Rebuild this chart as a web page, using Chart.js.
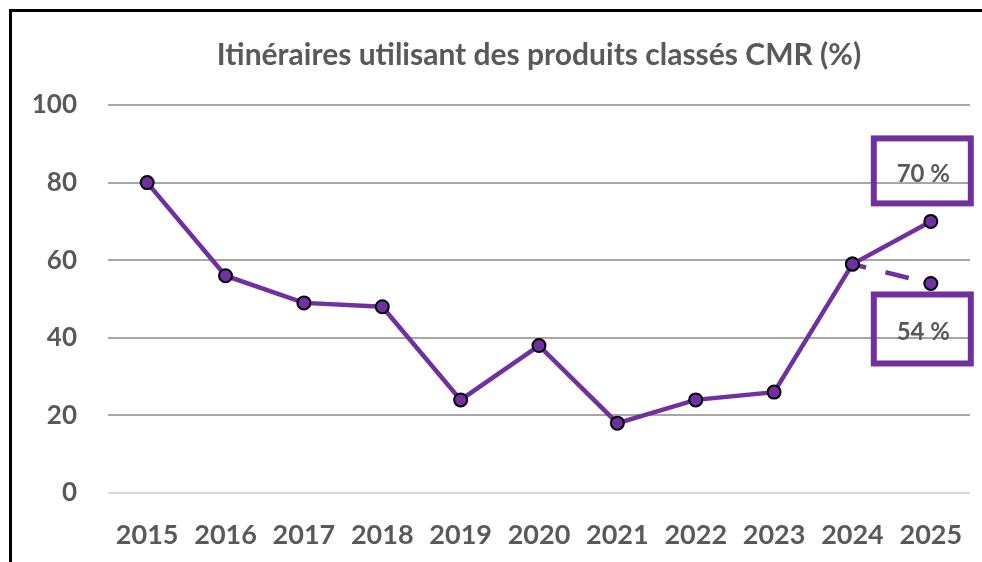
<!DOCTYPE html>
<html lang="fr">
<head>
<meta charset="utf-8">
<title>Itinéraires CMR</title>
<script src="https://cdn.jsdelivr.net/npm/chart.js@4/dist/chart.umd.min.js"></script>
<style>
    html, body { margin: 0; padding: 0; background: #fff; overflow: hidden; }
    #wrap { position: relative; width: 982px; height: 562px; }
    #frame {
        position: absolute; left: 9px; top: 9px; width: 1000px; height: 600px;
        border-top: 3px solid #000; border-left: 3px solid #000; pointer-events: none;
    }
</style>
</head>
<body>
<div id="wrap">
    <canvas id="cmrChart" width="982" height="562"></canvas>
    <div id="frame"></div>
</div>
<script>
// ---- Data ----
var years = ['2015', '2016', '2017', '2018', '2019', '2020', '2021', '2022', '2023', '2024', '2025'];
var cmrValues = [80, 56, 49, 48, 24, 38, 18, 24, 26, 59, 70];
var cmrAlt = [null, null, null, null, null, null, null, null, null, 59, 54];
var yTicks = [0, 20, 40, 60, 80, 100];
var boxLabels = ['70 %', '54 %'];

var purple = '#7030a0';
var textGrey = '#595959';
var font = "Lato, 'Open Sans', sans-serif";

// Boxes around the last values (2025)
var calloutBoxes = {
    id: 'calloutBoxes',
    afterDatasetsDraw: function (chart) {
        var x = chart.scales.x;
        var y = chart.scales.y;
        var last = years.length - 1;
        var px = x.getPixelForValue(last);
        var ctx = chart.ctx;
        var specs = [
            { v: cmrValues[last], top: -83, bottom: -18, text: boxLabels[0] },
            { v: cmrAlt[last], top: 11, bottom: 80, text: boxLabels[1] }
        ];
        ctx.save();
        specs.forEach(function (s) {
            var py = y.getPixelForValue(s.v);
            var left = px - 57, w = 97;
            var t = py + s.top, h = s.bottom - s.top;
            ctx.strokeStyle = purple;
            ctx.lineWidth = 6;
            ctx.strokeRect(left, t, w, h);
            ctx.fillStyle = textGrey;
            ctx.font = 'bold 24px ' + font;
            ctx.textAlign = 'center';
            ctx.textBaseline = 'middle';
            ctx.fillText(s.text, left + w / 2 + 1, t + h / 2 + 3);
        });
        ctx.restore();
    }
};

var ctx = document.getElementById('cmrChart');
new Chart(ctx, {
    type: 'line',
    data: {
        labels: years,
        datasets: [{
            label: 'CMR',
            data: cmrValues,
            borderColor: purple,
            borderWidth: 4.5,
            pointBackgroundColor: purple,
            pointBorderColor: '#000',
            pointBorderWidth: 2,
            pointRadius: 6.5,
            tension: 0,
            order: 1
        }, {
            label: 'CMR (variante)',
            data: cmrAlt,
            borderColor: purple,
            borderWidth: 4.5,
            borderDash: [24, 20],
            borderDashOffset: 10,
            pointBackgroundColor: purple,
            pointBorderColor: '#000',
            pointBorderWidth: 2,
            pointRadius: 6.5,
            tension: 0,
            order: 2
        }]
    },
    options: {
        responsive: false,
        animation: false,
        layout: { padding: { left: 0, right: 12, top: 0, bottom: 0 } },
        plugins: {
            legend: { display: false },
            tooltip: { enabled: false },
            title: {
                display: true,
                fullSize: false,
                text: 'Itinéraires utilisant des produits classés CMR (%)',
                color: textGrey,
                font: { family: font, size: 30, weight: 'bold', lineHeight: 1.2 },
                padding: { top: 37, bottom: 32 }
            }
        },
        scales: {
            x: {
                offset: true,
                grid: { display: false, drawTicks: false },
                border: { display: false },
                ticks: {
                    color: textGrey,
                    padding: 26,
                    maxRotation: 0,
                    font: { family: font, size: 27, weight: 'bold' }
                },
                afterFit: function (scale) {
                    scale.height = 69;
                    // labels sit inside the offset categories, no extra side padding needed
                    scale.paddingLeft = 0;
                    scale.paddingRight = 0;
                }
            },
            y: {
                min: 0,
                max: 100,
                afterBuildTicks: function (scale) {
                    scale.ticks = yTicks.map(function (v) { return { value: v }; });
                },
                grid: {
                    drawTicks: false,
                    lineWidth: 2,
                    color: function (c) { return c.tick && c.tick.value === 0 ? '#d9d9d9' : '#a6a6a6'; }
                },
                border: { display: false },
                ticks: {
                    color: textGrey,
                    padding: 31,
                    font: { family: font, size: 26, weight: 'bold' }
                },
                afterFit: function (scale) { scale.width = 108; }
            }
        }
    },
    plugins: [calloutBoxes]
});
</script>
</body>
</html>
